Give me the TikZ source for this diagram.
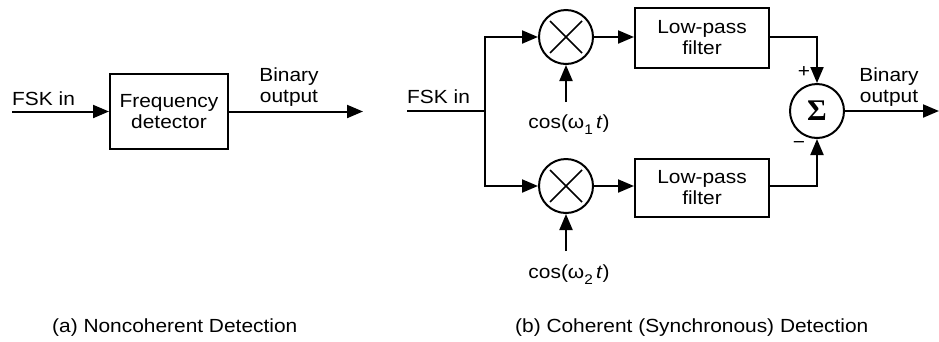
\documentclass[tikz,border=0pt]{standalone}
\usepackage{fontspec}
\setmainfont{Liberation Sans}[FakeStretch=1.1]
\newfontfamily\sigmafont{Liberation Serif}
\usetikzlibrary{arrows.meta}
\begin{document}
\begin{tikzpicture}[x=1pt,y=-1pt,
  wire/.style={line width=2pt},
  arr/.style={wire,-{Triangle[length=16pt,width=13pt]}},
  blk/.style={draw,line width=2pt,inner sep=0pt,align=center,
    font=\fontsize{19}{21}\selectfont},
  mix/.style={draw,circle,line width=2pt,minimum size=54pt,inner sep=0pt},
  lbl/.style={inner sep=0pt,font=\fontsize{19}{21}\selectfont},
  xline/.style={line width=1.6pt}]
\useasboundingbox (0,0) rectangle (939,341);

% ---------- (a) noncoherent ----------
\node[blk,minimum width=118pt,minimum height=75pt] (fd) at (169,111.5) {Frequency\\detector};
\coordinate (ain) at (12,111.5);
\coordinate (aout) at (363,111.5);
\draw[arr] (ain) -- (fd.west);
\draw[arr] (fd.east) -- (aout);
\node[lbl,anchor=base west] (afsk) at (12,105) {FSK in};
\node[lbl,anchor=north,align=center] (abin) at (289,68) {Binary\\output};
\node[lbl,anchor=base west] (capa) at (52,332) {(a) Noncoherent Detection};

% ---------- (b) coherent ----------
\node[lbl,anchor=base west] (bfsk) at (407,103) {FSK in};
\coordinate (bin) at (407,111);
\coordinate (j) at (485,111);
\node[mix] (m1) at (566,37) {};
\node[mix] (m2) at (566,186) {};
\draw[xline] (m1.center) ++(-16,-16) -- ++(32,32);
\draw[xline] (m1.center) ++(-16,16) -- ++(32,-32);
\draw[xline] (m2.center) ++(-16,-16) -- ++(32,32);
\draw[xline] (m2.center) ++(-16,16) -- ++(32,-32);
\draw[wire] (bin) -- (j);
\draw[arr] (j) |- (m1.west);
\draw[arr] (j) |- (m2.west);

\coordinate (c1s) at (566,102);
\coordinate (c2s) at (566,251);
\draw[arr] (c1s) -- (m1.south);
\draw[arr] (c2s) -- (m2.south);
\node[lbl,anchor=base] (c1) at (569,128) {cos(ω\raisebox{-0.35em}{\fontsize{14}{14}\selectfont 1}\,\textit{t})};
\node[lbl,anchor=base] (c2) at (569,278) {cos(ω\raisebox{-0.35em}{\fontsize{14}{14}\selectfont 2}\,\textit{t})};

\node[blk,minimum width=134pt,minimum height=60pt] (lp1) at (702,38) {Low-pass\\filter};
\node[blk,minimum width=134pt,minimum height=58pt] (lp2) at (702,188) {Low-pass\\filter};
\draw[arr] (m1.east) -- (m1.east -| lp1.west);
\draw[arr] (m2.east) -- (m2.east -| lp2.west);

\node[mix,font=\fontsize{30}{30}\selectfont\sigmafont\bfseries] (s) at (817,111) {Σ};
\draw[arr] (lp1.east |- m1.east) -| (s.north);
\draw[arr] (lp2.east |- m2.east) -| (s.south);
\coordinate (bout) at (939,111);
\draw[arr] (s.east) -- (bout);
\node[lbl,anchor=center] (plus) at (804,72) {+};
\node[lbl,anchor=center] (minus) at (799,145) {\textminus};
\node[lbl,anchor=north,align=center] (bbin) at (889,68) {Binary\\output};
\node[lbl,anchor=base west] (capb) at (515,332) {(b) Coherent (Synchronous) Detection};
\end{tikzpicture}
\end{document}
